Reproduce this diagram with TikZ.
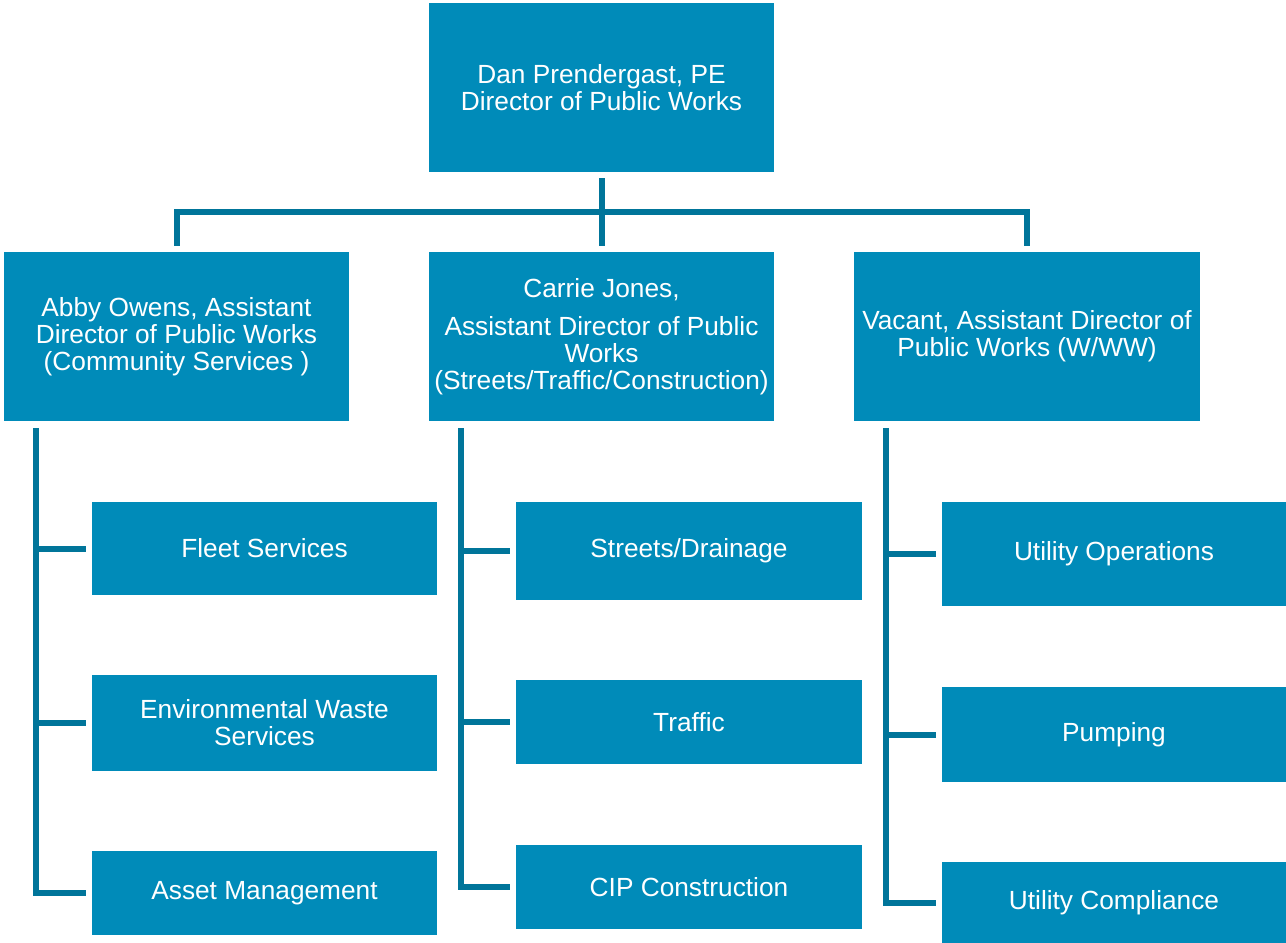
\documentclass[tikz,border=0pt]{standalone}
\usepackage{fontspec}
\setmainfont{Liberation Sans}
\usepackage{tikz}
\definecolor{boxblue}{RGB}{0,139,185}
\definecolor{lineblue}{RGB}{0,117,154}

\begin{document}
\begin{tikzpicture}[x=0.75pt, y=-0.75pt,
		box_style/.style={rectangle,fill=boxblue,text=white,align=center,inner sep=0pt,
			minimum width=258.75pt,font=\fontsize{19.7}{20.3}\selectfont},
		edge_style/.style={draw=lineblue,line width=4.5pt}]

		\useasboundingbox (0,0) rectangle (1286,943);

		\node[box_style,minimum height=126.75pt] (n0) at (601.5,87.5) {Dan Prendergast, PE\\Director of Public Works};

		\node[box_style,minimum height=126.75pt] (n1) at (176.5,336.5) {Abby Owens, Assistant\\Director of Public Works\\(Community Services )};
		\node[box_style,minimum height=126.75pt] (n2) at (601.5,336.5) {Carrie Jones,\\[8pt]Assistant Director of Public\\Works\\(Streets/Traffic/Construction)};
		\node[box_style,minimum height=126.75pt,minimum width=259.5pt] (n3) at (1027,336.5) {Vacant, Assistant Director of\\Public Works (W/WW)};

		\node[box_style,minimum height=69.75pt] (n4) at (264.5,548.5) {Fleet Services};
		\node[box_style,minimum height=72pt] (n5) at (264.5,723) {Environmental Waste\\Services};
		\node[box_style,minimum height=63pt] (n6) at (264.5,893) {Asset Management};

		\node[box_style,minimum height=73.5pt,minimum width=259.5pt] (n7) at (689,551) {Streets/Drainage};
		\node[box_style,minimum height=63pt,minimum width=259.5pt] (n8) at (689,722) {Traffic};
		\node[box_style,minimum height=63pt,minimum width=259.5pt] (n9) at (689,887) {CIP Construction};

		\node[box_style,minimum height=78pt,minimum width=258pt] (n10) at (1114,554) {Utility Operations};
		\node[box_style,minimum height=71.25pt,minimum width=258pt] (n11) at (1114,734.5) {Pumping};
		\node[box_style,minimum height=60.75pt,minimum width=258pt] (n12) at (1114,902.5) {Utility Compliance};

		\coordinate (bus) at (601.5,212);
		\coordinate (t1) at ([xshift=24pt]n1.south west);
		\coordinate (t2) at ([xshift=24pt]n2.south west);
		\coordinate (t3) at ([xshift=24pt]n3.south west);

		\draw[edge_style,shorten <=4.5pt,shorten >=4.5pt] (n0) -- (n2);
		\draw[edge_style,shorten <=4.5pt,shorten >=4.5pt] (n1.north) |- (bus) -| (n3.north);

		\draw[edge_style,shorten <=5.25pt,shorten >=4.5pt] (t1) |- (n6.west);
		\draw[edge_style,shorten >=4.5pt] (t1 |- n4.west) -- (n4.west);
		\draw[edge_style,shorten >=4.5pt] (t1 |- n5.west) -- (n5.west);

		\draw[edge_style,shorten <=5.25pt,shorten >=4.5pt] (t2) |- (n9.west);
		\draw[edge_style,shorten >=4.5pt] (t2 |- n7.west) -- (n7.west);
		\draw[edge_style,shorten >=4.5pt] (t2 |- n8.west) -- (n8.west);

		\draw[edge_style,shorten <=5.25pt,shorten >=4.5pt] (t3) |- (n12.west);
		\draw[edge_style,shorten >=4.5pt] (t3 |- n10.west) -- (n10.west);
		\draw[edge_style,shorten >=4.5pt] (t3 |- n11.west) -- (n11.west);
\end{tikzpicture}
\end{document}
